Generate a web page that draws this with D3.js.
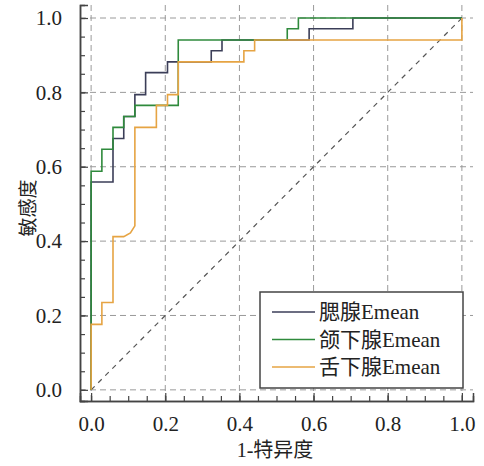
<!DOCTYPE html>
<html><head><meta charset="utf-8">
<script src="https://cdn.jsdelivr.net/npm/d3@7"></script>
<style>
body{margin:0;background:#fff}
svg text{font-family:"Liberation Serif","Times New Roman","Noto Sans CJK SC",serif;fill:#222}
</style>
</head><body><svg id="c" width="484" height="466"></svg>
<script>
const seriesNames = ["腮腺Emean", "颌下腺Emean", "舌下腺Emean"];
const seriesColors = ["#3b3e58", "#2f8a3c", "#e6a443"];

const parotidFpr = [0, 0, 0.059, 0.059, 0.088, 0.088, 0.118, 0.118, 0.147, 0.147, 0.206, 0.206, 0.324, 0.324, 0.353, 0.353, 0.588, 0.588, 0.706, 0.706, 1.0];
const parotidTpr = [0, 0.559, 0.559, 0.676, 0.676, 0.735, 0.735, 0.794, 0.794, 0.853, 0.853, 0.882, 0.882, 0.912, 0.912, 0.941, 0.941, 0.971, 0.971, 1.0, 1.0];

const submandFpr = [0, 0, 0.029, 0.029, 0.059, 0.059, 0.088, 0.088, 0.118, 0.118, 0.235, 0.235, 0.529, 0.529, 0.559, 0.559, 1.0];
const submandTpr = [0, 0.588, 0.588, 0.647, 0.647, 0.706, 0.706, 0.735, 0.735, 0.765, 0.765, 0.941, 0.941, 0.971, 0.971, 1.0, 1.0];

const sublingFpr = [0, 0, 0.029, 0.029, 0.059, 0.059, 0.088, 0.106, 0.118, 0.118, 0.176, 0.176, 0.206, 0.206, 0.235, 0.235, 0.412, 0.412, 0.441, 0.441, 1.0, 1.0];
const sublingTpr = [0, 0.176, 0.176, 0.235, 0.235, 0.412, 0.412, 0.422, 0.441, 0.706, 0.706, 0.765, 0.765, 0.794, 0.794, 0.882, 0.882, 0.912, 0.912, 0.941, 0.941, 1.0];

const majorTicks = [0, 0.2, 0.4, 0.6, 0.8, 1.0];
const minorTicks = d3.range(0, 1.0001, 0.05);
const xTitle = "1-特异度";
const yTitle = "敏感度";

const svg = d3.select("#c");
const x = d3.scaleLinear().domain([-0.03, 1.03]).range([80, 473]);
const y = d3.scaleLinear().domain([-0.03, 1.035]).range([401, 5]);

// grid
const grid = svg.append("g");
grid.selectAll(".gx").data(majorTicks).join("line")
  .attr("x1", d => x(d)).attr("x2", d => x(d)).attr("y1", y.range()[0]).attr("y2", y.range()[1])
  .attr("stroke", "#9a9a9a").attr("stroke-width", 1).attr("stroke-dasharray", "6,4");
grid.selectAll(".gy").data(majorTicks).join("line")
  .attr("y1", d => y(d)).attr("y2", d => y(d)).attr("x1", x.range()[0]).attr("x2", x.range()[1])
  .attr("stroke", "#9a9a9a").attr("stroke-width", 1).attr("stroke-dasharray", "6,4");

// diagonal
svg.append("line").attr("x1", x(0)).attr("y1", y(0)).attr("x2", x(1)).attr("y2", y(1))
  .attr("stroke", "#555").attr("stroke-width", 1.2).attr("stroke-dasharray", "5,5");

// axes (ticks inward)
const xAxisMinor = d3.axisBottom(x).tickValues(minorTicks).tickSize(-5).tickFormat("");
const yAxisMinor = d3.axisLeft(y).tickValues(minorTicks).tickSize(-5).tickFormat("");
const xAxis = d3.axisBottom(x).tickValues(majorTicks).tickSize(-8).tickPadding(15).tickFormat(d3.format(".1f"));
const yAxis = d3.axisLeft(y).tickValues(majorTicks).tickSize(-8).tickPadding(18).tickFormat(d3.format(".1f"));

function styleAxis(g) {
  g.attr("font-family", null);
  g.select(".domain").attr("stroke", "#444").attr("stroke-width", 1.5);
  g.selectAll(".tick line").attr("stroke", "#444").attr("stroke-width", 1.2);
  g.selectAll("text").style("font-size", "21px");
}
svg.append("g").attr("transform", `translate(0,${y.range()[0]})`).call(xAxisMinor).call(styleAxis);
svg.append("g").attr("transform", `translate(${x.range()[0]},0)`).call(yAxisMinor).call(styleAxis);
svg.append("g").attr("transform", `translate(0,${y.range()[0]})`).call(xAxis).call(styleAxis);
svg.append("g").attr("transform", `translate(${x.range()[0]},0)`).call(yAxis).call(styleAxis);

// curves
const series = [
  {name: seriesNames[0], color: seriesColors[0], fpr: parotidFpr, tpr: parotidTpr},
  {name: seriesNames[1], color: seriesColors[1], fpr: submandFpr, tpr: submandTpr},
  {name: seriesNames[2], color: seriesColors[2], fpr: sublingFpr, tpr: sublingTpr}
];
const line = d3.line().x(d => x(d[0])).y(d => y(d[1]));
series.forEach(s => {
  svg.append("path").datum(s.fpr.map((f, i) => [f, s.tpr[i]]))
    .attr("d", line).attr("fill", "none").attr("stroke", s.color).attr("stroke-width", 1.6);
});

// legend
const lg = svg.append("g");
lg.append("rect").attr("x", 260).attr("y", 292).attr("width", 203).attr("height", 96)
  .attr("fill", "#fff").attr("stroke", "#444").attr("stroke-width", 1.5);
series.forEach((s, i) => {
  const cy = 312 + i * 27.5;
  lg.append("line").attr("x1", 272).attr("x2", 315).attr("y1", cy).attr("y2", cy)
    .attr("stroke", s.color).attr("stroke-width", 1.6);
  lg.append("text").attr("x", 319).attr("y", cy).attr("dy", "0.35em")
    .style("font-size", "21px").text(s.name);
});

// titles
svg.append("text").attr("x", 275).attr("y", 457).attr("text-anchor", "middle")
  .style("font-size", "20px").text(xTitle);
svg.append("text").attr("transform", "translate(35,208) rotate(-90)").attr("text-anchor", "middle")
  .style("font-size", "19px").text(yTitle);
</script></body></html>
